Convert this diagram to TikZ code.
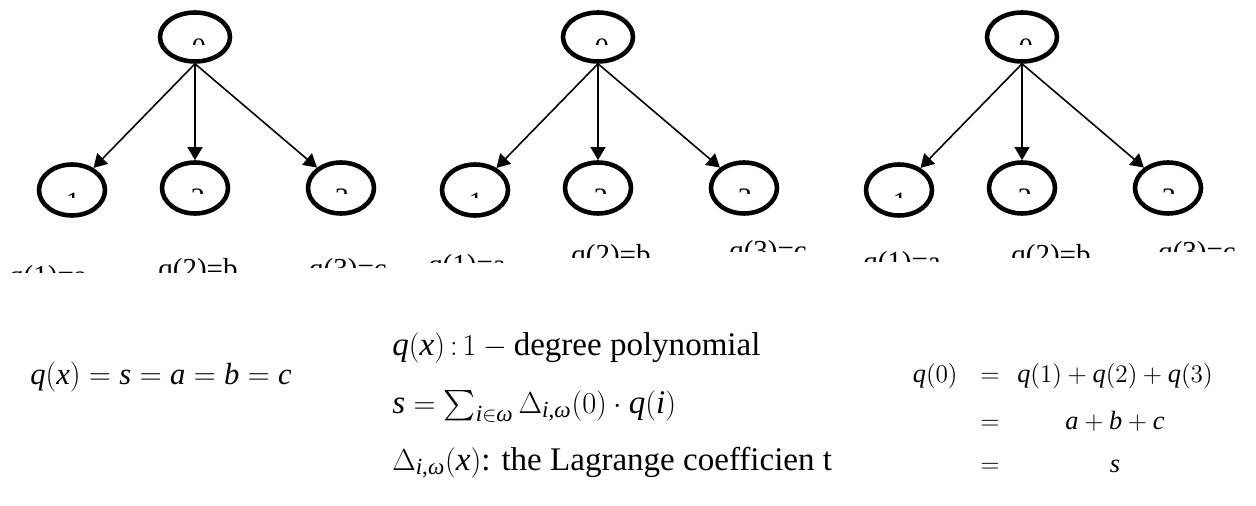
\documentclass[tikz,border=0pt]{standalone}
\usepackage{amsmath}
\usepackage{fontspec}
\setmainfont{Liberation Serif}
\usetikzlibrary{positioning,shapes.geometric,arrows.meta}
% math letters, digits and signs from the text font
\DeclareSymbolFont{tletters}{TU}{\rmdefault}{m}{it}
\DeclareSymbolFont{tupright}{TU}{\rmdefault}{m}{n}
\Umathcode`a=7 \symtletters `a \Umathcode`b=7 \symtletters `b
\Umathcode`c=7 \symtletters `c \Umathcode`i=7 \symtletters `i
\Umathcode`q=7 \symtletters `q \Umathcode`s=7 \symtletters `s
\Umathcode`x=7 \symtletters `x
\Umathcode`0=7 \symtupright `0 \Umathcode`1=7 \symtupright `1
\Umathcode`2=7 \symtupright `2 \Umathcode`3=7 \symtupright `3
\Umathcode`(=4 \symtupright `( \Umathcode`)=5 \symtupright `)
\Umathcode`==3 \symtupright `= \Umathcode`+=2 \symtupright `+
\Umathcode`:=3 \symtupright `: \Umathcode`,=6 \symtupright `,
\Umathchardef\Delta=0 \symtupright "0394
\Umathchardef\omega=0 \symtletters "03C9

\begin{document}
\begin{tikzpicture}[x=0.02cm,y=-0.02cm,
    party/.style={draw,ellipse,line width=2.6pt,minimum width=1.32cm,
      minimum height=1.02cm,inner sep=0pt},
    link/.style={-{Triangle[length=7.5pt,width=8.5pt]},line width=0.9pt},
    digit/.style={font=\fontsize{16}{18}\selectfont,inner sep=0pt,anchor=base},
    share/.style={font=\fontsize{16.5}{20}\selectfont,inner sep=0pt,anchor=base},
    eqn/.style={font=\fontsize{17}{20}\selectfont,inner sep=0pt,anchor=base west}]
  \useasboundingbox (0,0) rectangle (1256,506);

  % ---------------- three share trees ----------------
  \foreach \t/\rx in {1/195,2/598,3/1022}{
    \node[party,minimum width=1.4cm,minimum height=0.98cm] (r\t) at (\rx,37) {};
    \node[party] (a\t) at (\rx-123,190) {};
    \node[party] (b\t) at (\rx,188) {};
    \node[party] (c\t) at (\rx+146,188) {};
    \foreach \k in {a,b,c}
      \draw[link] (r\t.south) -- (\k\t);
    % index digits, only their tops are printed
    \foreach \k/\d/\dx/\dy/\vis in {r/0/4/2/6, a/1/1/3/5, b/2/3/1/5, c/3/1/1/5}{
      \begin{scope}[shift={(\k\t)}]
        \clip (\dx-14,\dy-2) rectangle (\dx+14,\dy+\vis);
        \node[digit] (n\k\t) at (\dx,\dy+19) {\d};
      \end{scope}
    }
  }

  % ---------------- share values, cut at the bottom ----------------
  \foreach \n/\x/\top/\cut/\txt in {
      a1/48/265/273/{q(1)=a}, b1/198/258/273/{q(2)=b}, c1/348/258/268/{q(3)=c},
      a2/467/255/263/{q(1)=a}, b2/611/245/258/{q(2)=b}, c2/768/240/252/{q(3)=c},
      a3/902/252/262/{q(1)=a}, b3/1051/245/258/{q(2)=b}, c3/1197/242/252/{q(3)=c}}{
    \begin{scope}
      \clip (\x-60,\top-6) rectangle (\x+60,\cut);
      \node[share] (s\n) at (\x,\top+20) {\txt};
    \end{scope}
  }

  % ---------------- secret ----------------
  \node[eqn,font=\fontsize{17.4}{21}\selectfont] (secret) at (30,384) {$q(x)=s=a=b=c$};

  % ---------------- polynomial notes ----------------
  \node[eqn,font=\fontsize{18.8}{22}\selectfont] (deg) at (392,355)
    {$q(x)\,{:}\,1-{}$degree polynomial};
  \node[eqn,font=\fontsize{18.8}{22}\selectfont] (sum) at (392,413)
    {$s=\sum_{i\in\omega}\Delta_{i,\omega}(0)\cdot q(i)$};
  \node[eqn,font=\fontsize{18.8}{22}\selectfont] (lag) at (392,470)
    {$\Delta_{i,\omega}(x)$: the Lagrange coefficien t};

  % ---------------- reconstruction ----------------
  \node[eqn,anchor=base east,font=\fontsize{15}{19}\selectfont] (lhs) at (958,382) {$q(0)$};
  \foreach \i/\y/\rhs in {1/382/{q(1)+q(2)+q(3)}, 2/429/{a+b+c}, 3/472/{s}}{
    \node[eqn,anchor=base,font=\fontsize{15}{19}\selectfont] (eq\i) at (990,\y) {$=$};
    \node[eqn,anchor=base,font=\fontsize{15}{19}\selectfont] (rhs\i) at (1115,\y) {$\rhs$};
  }
\end{tikzpicture}
\end{document}
